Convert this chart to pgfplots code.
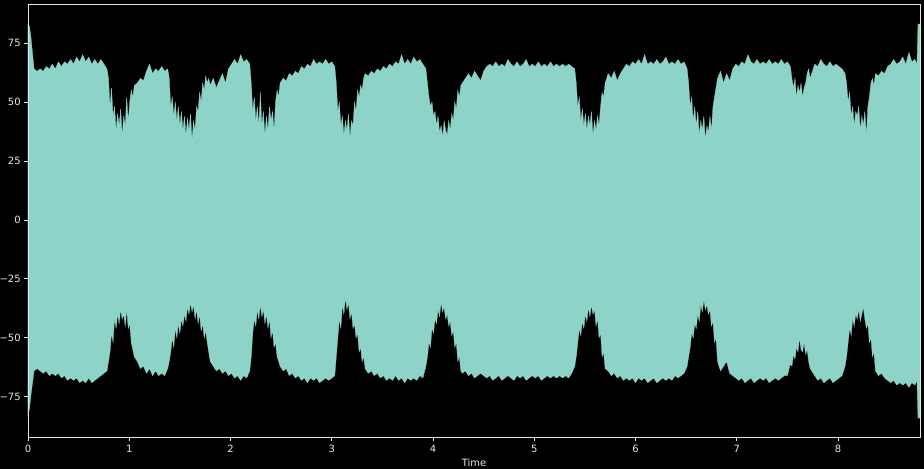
\documentclass[border=0pt]{standalone}
\usepackage{pgfplots}
\pgfplotsset{compat=1.18}
\usepackage{pgfplotstable}
\usepackage{fontspec}
\setmainfont{DejaVu Sans}
\usetikzlibrary{backgrounds,calc}
\definecolor{wave}{HTML}{8DD3C7}
\definecolor{fg}{HTML}{E6E6E6}
\pgfplotstableread{
t u l
0.00 83 -83
0.015 82 -80
0.03 77 -74
0.06 64 -64
0.09 63 -63
0.12 64 -64
0.15 63 -65
0.18 65 -64
0.21 64 -66
0.24 66 -65
0.27 64 -66
0.30 67 -65
0.33 65 -67
0.36 67 -66
0.39 66 -68
0.42 68 -67
0.45 66 -68
0.48 69 -67
0.51 67 -69
0.54 70 -68
0.57 67 -69
0.60 69 -67
0.63 66 -69
0.66 68 -68
0.69 66 -67
0.72 68 -66
0.75 66 -65
0.780 64 -64
0.795 60 -60
0.810 48 -56
0.825 56 -48
0.840 44 -52
0.855 48 -42
0.870 38 -46
0.885 45 -40
0.900 40 -44
0.915 47 -38
0.930 36 -42
0.945 44 -40
0.960 40 -45
0.975 52 -38
0.990 42 -46
1.005 50 -44
1.020 55 -52
1.035 52 -55
1.050 57 -58
1.08 58 -60
1.11 60 -63
1.14 59 -62
1.17 63 -65
1.20 66 -63
1.23 62 -66
1.26 64 -64
1.29 63 -66
1.32 65 -65
1.35 63 -66
1.380 64 -63
1.395 60 -60
1.410 48 -56
1.425 52 -50
1.440 44 -54
1.455 50 -46
1.470 42 -50
1.485 48 -44
1.500 40 -48
1.515 46 -42
1.530 38 -45
1.545 44 -40
1.560 36 -43
1.575 43 -37
1.590 38 -40
1.605 45 -35
1.620 34 -39
1.635 42 -36
1.650 38 -42
1.665 48 -38
1.680 46 -44
1.695 54 -40
1.710 50 -47
1.725 58 -44
1.740 55 -50
1.755 61 -47
1.770 58 -52
1.785 60 -56
1.800 57 -60
1.83 60 -62
1.86 56 -64
1.89 59 -63
1.92 62 -65
1.95 58 -64
1.98 64 -66
2.01 66 -65
2.04 68 -67
2.07 66 -66
2.10 70 -68
2.13 67 -66
2.16 68 -67
2.190 66 -64
2.205 58 -58
2.220 46 -48
2.235 52 -42
2.250 42 -45
2.265 48 -38
2.280 40 -42
2.295 54 -36
2.310 40 -41
2.325 46 -38
2.340 36 -44
2.355 44 -40
2.370 38 -46
2.385 48 -42
2.400 42 -50
2.415 46 -47
2.430 38 -54
2.445 50 -52
2.460 55 -58
2.475 52 -60
2.490 58 -62
2.52 60 -64
2.55 59 -63
2.58 62 -66
2.61 61 -65
2.64 63 -67
2.67 62 -66
2.70 65 -68
2.73 64 -67
2.76 66 -69
2.79 65 -67
2.82 68 -68
2.85 66 -67
2.88 67 -69
2.91 66 -68
2.94 68 -67
2.97 66 -68
3.00 67 -67
3.030 65 -66
3.045 58 -58
3.060 46 -50
3.075 50 -42
3.090 40 -46
3.105 44 -36
3.120 36 -40
3.135 42 -33
3.150 38 -38
3.165 45 -35
3.180 35 -42
3.195 42 -39
3.210 40 -46
3.225 50 -44
3.240 46 -50
3.255 55 -48
3.270 52 -56
3.285 57 -54
3.300 55 -60
3.315 60 -58
3.330 62 -63
3.36 61 -65
3.39 63 -64
3.42 62 -66
3.45 64 -65
3.48 63 -67
3.51 65 -66
3.54 64 -68
3.57 66 -67
3.60 65 -68
3.63 67 -66
3.66 66 -68
3.69 70 -67
3.72 66 -69
3.75 68 -67
3.78 66 -68
3.81 69 -67
3.84 67 -68
3.87 68 -66
3.90 66 -67
3.930 64 -62
3.945 58 -58
3.960 52 -52
3.975 48 -54
3.990 50 -46
4.005 44 -48
4.020 46 -42
4.035 40 -44
4.050 44 -38
4.065 37 -41
4.080 40 -35
4.095 35 -39
4.110 42 -37
4.125 38 -42
4.140 36 -40
4.155 42 -45
4.170 38 -43
4.185 45 -49
4.200 42 -47
4.215 50 -54
4.230 47 -52
4.245 55 -60
4.260 52 -58
4.275 57 -64
4.290 58 -65
4.32 60 -64
4.35 62 -66
4.38 60 -65
4.41 63 -67
4.44 61 -66
4.47 59 -65
4.50 63 -66
4.53 65 -67
4.56 66 -66
4.59 65 -68
4.62 67 -67
4.65 65 -66
4.68 66 -68
4.71 65 -67
4.74 68 -66
4.77 66 -67
4.80 65 -68
4.83 67 -66
4.86 65 -67
4.89 66 -66
4.92 68 -68
4.95 65 -67
4.98 66 -66
5.01 65 -67
5.04 67 -66
5.07 65 -68
5.10 66 -67
5.13 65 -66
5.16 67 -67
5.19 65 -66
5.22 66 -67
5.25 65 -66
5.28 66 -67
5.31 65 -66
5.34 66 -67
5.37 65 -65
5.400 64 -62
5.415 58 -58
5.430 48 -52
5.445 52 -46
5.460 42 -49
5.475 47 -43
5.490 40 -46
5.505 45 -40
5.520 38 -43
5.535 44 -37
5.550 40 -41
5.565 46 -36
5.580 36 -40
5.595 42 -38
5.610 38 -45
5.625 44 -42
5.640 40 -50
5.655 48 -48
5.670 54 -58
5.685 52 -56
5.700 58 -63
5.73 62 -64
5.76 60 -66
5.79 63 -65
5.82 59 -67
5.85 62 -66
5.88 64 -68
5.91 66 -67
5.94 65 -68
5.97 67 -67
6.00 66 -69
6.03 68 -67
6.06 66 -68
6.09 70 -67
6.12 66 -69
6.15 67 -68
6.18 66 -67
6.21 68 -69
6.24 66 -68
6.27 67 -67
6.30 69 -68
6.33 66 -67
6.36 67 -68
6.39 66 -66
6.42 68 -67
6.45 66 -66
6.48 67 -65
6.510 64 -62
6.525 58 -58
6.540 48 -54
6.555 52 -48
6.570 42 -50
6.585 48 -44
6.600 40 -46
6.615 46 -40
6.630 36 -43
6.645 42 -36
6.660 38 -39
6.675 44 -34
6.690 34 -38
6.705 40 -36
6.720 37 -40
6.735 44 -38
6.750 38 -45
6.765 48 -43
6.780 52 -52
6.795 56 -50
6.810 60 -60
6.84 63 -64
6.87 58 -62
6.90 62 -60
6.93 59 -65
6.96 64 -66
6.99 66 -67
7.02 65 -68
7.05 67 -67
7.08 66 -69
7.11 70 -68
7.14 67 -67
7.17 66 -69
7.20 68 -68
7.23 66 -67
7.26 67 -68
7.29 66 -67
7.32 68 -69
7.35 66 -68
7.38 67 -67
7.41 66 -68
7.44 68 -67
7.47 66 -66
7.50 67 -66
7.530 65 -61
7.545 60 -62
7.560 56 -57
7.575 60 -59
7.590 52 -54
7.605 57 -56
7.620 54 -50
7.635 58 -55
7.650 52 -56
7.665 56 -52
7.680 58 -57
7.695 62 -55
7.710 64 -60
7.725 60 -63
7.740 62 -64
7.77 66 -66
7.80 65 -68
7.83 68 -67
7.86 66 -69
7.89 65 -68
7.92 67 -67
7.95 65 -69
7.98 66 -68
8.01 65 -67
8.04 64 -66
8.070 62 -62
8.085 58 -58
8.100 50 -52
8.115 54 -46
8.130 44 -49
8.145 48 -42
8.160 40 -45
8.175 46 -40
8.190 44 -42
8.205 48 -38
8.220 38 -43
8.235 44 -40
8.250 40 -37
8.265 46 -42
8.280 36 -46
8.295 48 -44
8.310 52 -52
8.325 58 -50
8.340 60 -58
8.355 57 -56
8.370 62 -64
8.40 61 -66
8.43 63 -65
8.46 62 -67
8.49 65 -68
8.52 66 -69
8.55 68 -68
8.58 66 -70
8.61 67 -69
8.64 69 -70
8.67 66 -69
8.70 71 -71
8.73 67 -69
8.76 68 -70
8.78 66 -68
8.79 83 -84
8.81 83 -84
}\wavedata
\begin{document}
\begin{tikzpicture}
\begin{axis}[
  name=ax,
  scale only axis,
  width=669pt, height=324.75pt,
  xmin=0, xmax=8.81,
  ymin=-92, ymax=91.5,
  axis background/.style={fill=black},
  axis line style={fg, line width=0.6pt},
  xtick={0,1,2,3,4,5,6,7,8},
  ytick={-75,-50,-25,0,25,50,75},
  yticklabels={−75,−50,−25,0,25,50,75},
  xticklabels={0,1,2,3,4,5,6,7,8},
  tick style={fg, line width=0.6pt},
  tick align=outside,
  major tick length=3pt,
  xtick pos=bottom, ytick pos=left,
  ticklabel style={font=\fontsize{7.5}{9}\selectfont, text=fg},
  xticklabel style={yshift=0.5pt},
  yticklabel style={xshift=1pt},
  xlabel={Time},
  xlabel style={font=\fontsize{7.5}{9}\selectfont, text=fg, yshift=2pt},
  axis on top,
  clip=true,
]
\addplot[fill=wave, draw=wave, line width=0.2pt] table[x=t, y=u] {\wavedata} \closedcycle;
\addplot[fill=wave, draw=wave, line width=0.2pt] table[x=t, y=l] {\wavedata} \closedcycle;
\end{axis}
\begin{scope}[on background layer]
\fill[black] ($(ax.south west)+(-21pt,-24pt)$) rectangle ($(ax.north east)+(3pt,3pt)$);
\end{scope}
\pgfresetboundingbox
\path[use as bounding box] ($(ax.south west)+(-21pt,-24pt)$) rectangle ($(ax.north east)+(3pt,3pt)$);
\end{tikzpicture}
\end{document}
